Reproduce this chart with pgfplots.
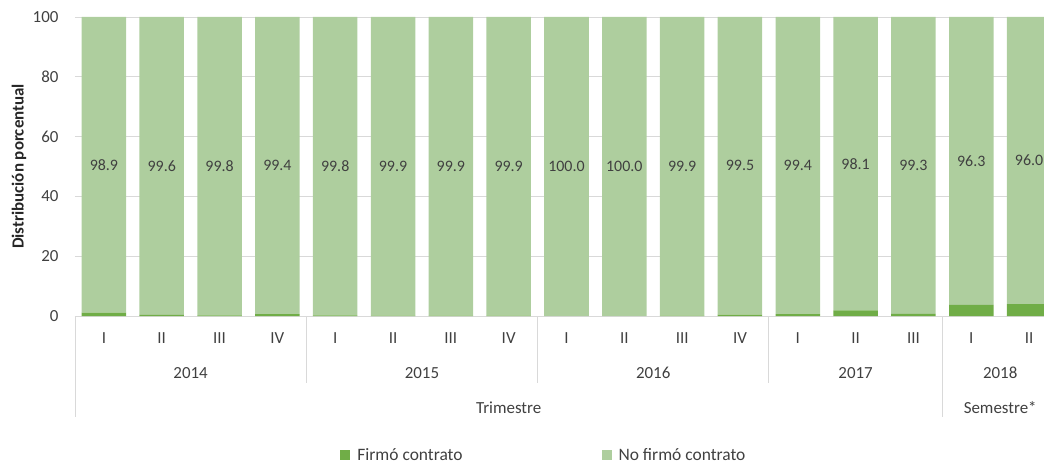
\documentclass[border=0pt]{standalone}
\usepackage{pgfplots}
\pgfplotsset{compat=1.18}
\usepackage{fontspec}
\setmainfont{Carlito}
\definecolor{dk}{HTML}{70AD47}
\definecolor{lt}{HTML}{AECE9E}
\definecolor{txt}{HTML}{404040}
\definecolor{gr}{HTML}{D9D9D9}
\begin{document}
\begin{tikzpicture}
\begin{axis}[name=ax, scale only axis, width=983bp, height=299bp,
  ybar stacked, bar width=0.77,
  xmin=-0.5, xmax=16.5, ymin=0, ymax=100,
  ytick={0,20,...,100}, xtick={0,...,16},
  xticklabels={I,II,III,IV,I,II,III,IV,I,II,III,IV,I,II,III,I,II},
  axis line style={draw=none},
  ymajorgrids, grid style={gr, line width=0.8bp},
  major tick length=0,
  /pgf/number format/assume math mode=true,
  tick label style={font=\fontsize{17}{20}\selectfont, text=txt},
  yticklabel style={anchor=east, xshift=-13bp},
  xticklabel style={anchor=center, yshift=-22bp},
  ylabel={\textbf{Distribución porcentual}},
  every axis y label/.style={at={(rel axis cs:0,0.5)}, rotate=90, anchor=center, yshift=56bp, font=\fontsize{17}{20}\selectfont, text=black!85},
  clip=false,
  legend style={at={(rel axis cs:0.477,0)}, anchor=center, yshift=-139bp, draw=none, fill=none,
    legend columns=2, font=\fontsize{17.5}{20}\selectfont, text=txt,
    /tikz/every even column/.append style={column sep=137bp},
    /tikz/every odd column/.append style={column sep=5bp},
    inner sep=0pt},
  legend image code/.code={\fill[#1] (0bp,-5bp) rectangle (10bp,5bp);},
]
\addplot[fill=dk, draw=none] coordinates {
(0,1.1) (1,0.4) (2,0.2) (3,0.6) (4,0.2) (5,0.1) (6,0.1) (7,0.1) (8,0.0) (9,0.0) (10,0.1) (11,0.5) (12,0.6) (13,1.9) (14,0.7) (15,3.7) (16,4.0)};
\addlegendentry{Firmó contrato}
\addplot[fill=lt, draw=none, nodes near coords,
  nodes near coords style={font=\fontsize{16}{19}\selectfont, text=txt, /pgf/number format/fixed, /pgf/number format/fixed zerofill, /pgf/number format/precision=1}] coordinates {
(0,98.9) (1,99.6) (2,99.8) (3,99.4) (4,99.8) (5,99.9) (6,99.9) (7,99.9) (8,100.0) (9,100.0) (10,99.9) (11,99.5) (12,99.4) (13,98.1) (14,99.3) (15,96.3) (16,96.0)};
\addlegendentry{No firmó contrato}
\draw[gr, line width=0.8bp] (axis cs:-0.5,0) -- ([yshift=-101bp]axis cs:-0.5,0);
\draw[gr, line width=0.8bp] (axis cs:3.5,0) -- ([yshift=-67bp]axis cs:3.5,0);
\draw[gr, line width=0.8bp] (axis cs:7.5,0) -- ([yshift=-67bp]axis cs:7.5,0);
\draw[gr, line width=0.8bp] (axis cs:11.5,0) -- ([yshift=-67bp]axis cs:11.5,0);
\draw[gr, line width=0.8bp] (axis cs:14.5,0) -- ([yshift=-101bp]axis cs:14.5,0);
\draw[gr, line width=0.8bp] (axis cs:16.5,0) -- ([yshift=-101bp]axis cs:16.5,0);
\node[text=txt, font=\fontsize{17}{20}\selectfont] at ([yshift=-57bp]axis cs:1.5,0) {2014};
\node[text=txt, font=\fontsize{17}{20}\selectfont] at ([yshift=-57bp]axis cs:5.5,0) {2015};
\node[text=txt, font=\fontsize{17}{20}\selectfont] at ([yshift=-57bp]axis cs:9.5,0) {2016};
\node[text=txt, font=\fontsize{17}{20}\selectfont] at ([yshift=-57bp]axis cs:13,0) {2017};
\node[text=txt, font=\fontsize{17}{20}\selectfont] at ([yshift=-57bp]axis cs:15.5,0) {2018};
\node[text=txt, font=\fontsize{17}{20}\selectfont] at ([yshift=-92bp]axis cs:7,0) {Trimestre};
\node[text=txt, font=\fontsize{17}{20}\selectfont] at ([yshift=-92bp]axis cs:15.5,0) {Semestre*};
\end{axis}
\pgfresetboundingbox
\path ([xshift=-75bp,yshift=-147bp]ax.south west) rectangle ([xshift=-14bp,yshift=17bp]ax.north east);
\end{tikzpicture}
\end{document}
